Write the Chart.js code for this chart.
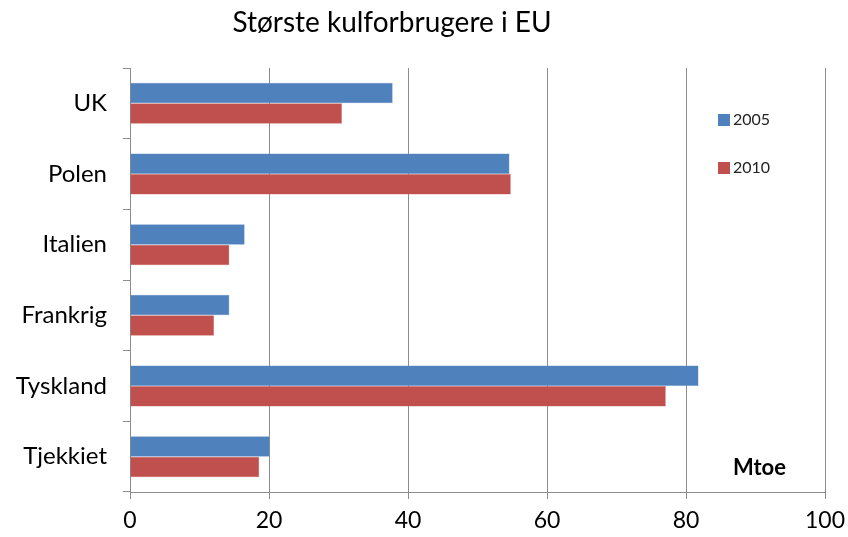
<!DOCTYPE html>
<html>
<head>
<meta charset="utf-8">
<script src="https://cdn.jsdelivr.net/npm/chart.js@4"></script>
<style>
    html, body { margin: 0; padding: 0; background: #fff; }
    #wrap { width: 848px; height: 537px; }
</style>
</head>
<body>
<div id="wrap"><canvas id="kulChart" width="848" height="537"></canvas></div>
<script>
const countries = ["UK", "Polen", "Italien", "Frankrig", "Tyskland", "Tjekkiet"];
const values2005 = [37.8, 54.6, 16.5, 14.3, 81.8, 20.1];
const values2010 = [30.5, 54.8, 14.3, 12.1, 77.1, 18.6];
const xTicks = [0, 20, 40, 60, 80, 100];

const FONT = "Lato, 'Open Sans', sans-serif";
const gridGrey = "#8c8c8c";

// Title, legend and unit label drawn in the Excel positions
const overlayPlugin = {
    id: "overlay",
    afterDraw(chart) {
        const ctx = chart.ctx;
        const area = chart.chartArea;
        ctx.save();
        ctx.fillStyle = "#000";
        ctx.font = "28px " + FONT;
        ctx.textAlign = "center";
        ctx.textBaseline = "middle";
        ctx.fillText("Største kulforbrugere i EU", 392, 23);

        // legend
        ctx.font = "16px " + FONT;
        ctx.textAlign = "left";
        chart.data.datasets.forEach((ds, i) => {
            const y = 120 + i * 48;
            ctx.fillStyle = ds.backgroundColor;
            ctx.fillRect(718, y - 6, 12, 12);
            ctx.fillStyle = "#222";
            ctx.fillText(ds.label, 733, y);
        });

        // unit
        ctx.font = "bold 22px " + FONT;
        ctx.fillStyle = "#000";
        ctx.fillText("Mtoe", 733, area.bottom - 24);
        ctx.restore();
    }
};

new Chart(document.getElementById("kulChart"), {
    type: "bar",
    data: {
        labels: countries,
        datasets: [
            {
                label: "2005",
                data: values2005,
                backgroundColor: "#4F81BD",
                borderColor: "#6f9bd1",
                borderWidth: 0.5
            },
            {
                label: "2010",
                data: values2010,
                backgroundColor: "#C0504D",
                borderColor: "#d47673",
                borderWidth: 0.5
            }
        ]
    },
    options: {
        indexAxis: "y",
        responsive: false,
        animation: false,
        layout: {
            padding: { top: 68, right: 23, left: 0, bottom: 0 }
        },
        datasets: {
            bar: {
                barPercentage: 1.0,
                categoryPercentage: 0.58
            }
        },
        scales: {
            x: {
                min: 0,
                max: 100,
                afterBuildTicks(axis) {
                    axis.ticks = xTicks.map(v => ({ value: v }));
                },
                afterFit(axis) {
                    axis.height = 45;
                    // let the last tick label hang over the right edge
                    axis.paddingRight = 0;
                    axis.paddingLeft = 0;
                },
                grid: {
                    color: gridGrey,
                    lineWidth: 1,
                    drawTicks: true,
                    tickLength: 7,
                    tickColor: gridGrey
                },
                border: { color: gridGrey, width: 1 },
                ticks: {
                    color: "#000",
                    padding: 8,
                    font: { family: FONT, size: 23 }
                }
            },
            y: {
                afterFit(axis) {
                    axis.width = 130;
                },
                grid: {
                    offset: true,
                    drawOnChartArea: false,
                    drawTicks: true,
                    tickLength: 7,
                    tickColor: gridGrey
                },
                border: { color: gridGrey, width: 1 },
                ticks: {
                    color: "#000",
                    padding: 16,
                    font: { family: FONT, size: 24 }
                }
            }
        },
        plugins: {
            legend: { display: false },
            title: { display: false },
            tooltip: { enabled: false }
        }
    },
    plugins: [overlayPlugin]
});
</script>
</body>
</html>
